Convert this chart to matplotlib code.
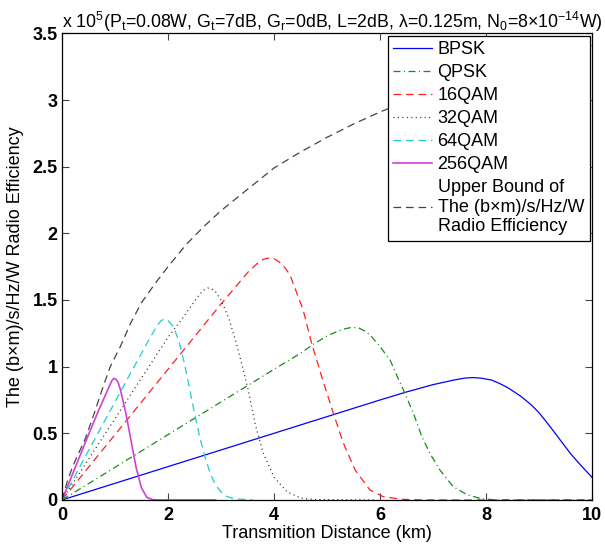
import matplotlib
matplotlib.use("Agg")
import matplotlib.pyplot as plt

plt.rcParams['font.family'] = ['Liberation Sans', 'DejaVu Sans']
plt.rcParams['mathtext.fontset'] = 'custom'
plt.rcParams['mathtext.rm'] = 'Liberation Sans'
plt.rcParams['mathtext.it'] = 'Liberation Sans:italic'
plt.rcParams['lines.scale_dashes'] = False

# values, efficiency in units of 10^5
bpsk_km = [0, 1, 2, 3, 4, 5, 6, 6.5, 7, 7.4, 7.6, 7.75, 7.9, 8.1, 8.25, 8.4, 8.65, 8.85, 9.0, 9.2, 9.4, 9.6, 9.8, 10]
bpsk_eff = [0, 0.125, 0.25, 0.375, 0.5, 0.625, 0.75, 0.81, 0.865, 0.9, 0.914, 0.918, 0.914, 0.9, 0.875, 0.845, 0.78, 0.715, 0.655, 0.555, 0.45, 0.345, 0.255, 0.17]

qpsk_km = [0, 1, 2, 3, 4, 4.5, 4.75, 5.0, 5.2, 5.35, 5.47, 5.6, 5.7, 5.81, 6.0, 6.19, 6.31, 6.47, 6.63, 6.79, 6.94, 7.13, 7.38, 7.64, 7.9, 8.2, 10]
qpsk_eff = [0, 0.245, 0.49, 0.735, 0.98, 1.10, 1.17, 1.23, 1.265, 1.285, 1.295, 1.29, 1.27, 1.24, 1.15, 1.05, 0.94, 0.80, 0.65, 0.475, 0.35, 0.225, 0.10, 0.04, 0.01, 0, 0]

qam16_km = [0, 1, 2, 3, 3.3, 3.5, 3.7, 3.8, 3.9, 4.0, 4.1, 4.2, 4.3, 4.55, 4.71, 4.9, 5.12, 5.31, 5.53, 5.81, 6.06, 6.4, 6.8, 10]
qam16_eff = [0, 0.49, 0.98, 1.47, 1.61, 1.705, 1.78, 1.805, 1.815, 1.81, 1.785, 1.745, 1.69, 1.425, 1.175, 0.925, 0.65, 0.425, 0.225, 0.075, 0.025, 0.005, 0, 0]

qam32_km = [0, 0.5, 1, 1.5, 2, 2.25, 2.5, 2.6, 2.68, 2.75, 2.82, 2.9, 3.0, 3.15, 3.3, 3.5, 3.65, 3.8, 4.0, 4.25, 4.5, 4.75, 5.9]
qam32_eff = [0, 0.305, 0.61, 0.915, 1.22, 1.35, 1.49, 1.545, 1.575, 1.59, 1.585, 1.56, 1.50, 1.36, 1.16, 0.85, 0.56, 0.35, 0.17, 0.06, 0.015, 0.003, 0]

qam64_km = [0, 0.5, 1, 1.25, 1.5, 1.65, 1.8, 1.87, 1.93, 2.0, 2.1, 2.2, 2.3, 2.4, 2.5, 2.6, 2.7, 2.8, 2.9, 3.0, 3.1, 3.25, 3.6]
qam64_eff = [0, 0.37, 0.735, 0.92, 1.10, 1.21, 1.31, 1.345, 1.357, 1.345, 1.30, 1.20, 1.04, 0.85, 0.65, 0.47, 0.32, 0.195, 0.11, 0.06, 0.028, 0.008, 0]

qam256_km = [0, 0.25, 0.5, 0.7, 0.8, 0.9, 0.94, 0.98, 1.02, 1.06, 1.1, 1.2, 1.3, 1.4, 1.5, 1.6, 1.7, 1.8, 2.9]
qam256_eff = [0, 0.245, 0.49, 0.68, 0.77, 0.86, 0.895, 0.912, 0.905, 0.88, 0.83, 0.66, 0.45, 0.24, 0.09, 0.02, 0.003, 0, 0]

bound_km = [0, 0.1, 0.2, 0.3, 0.43, 0.6, 0.75, 0.91, 1.1, 1.3, 1.5, 1.75, 2.0, 2.33, 2.66, 3.0, 3.5, 4.0, 4.5, 5.0, 5.5, 6.0, 6.5, 7, 8, 9, 10]
bound_eff = [0, 0.14, 0.25, 0.34, 0.45, 0.64, 0.82, 1.0, 1.15, 1.33, 1.48, 1.62, 1.75, 1.91, 2.045, 2.17, 2.33, 2.49, 2.61, 2.72, 2.82, 2.91, 2.99, 3.07, 3.2, 3.31, 3.41]

labels = ['BPSK', 'QPSK', '16QAM', '32QAM', '64QAM', '256QAM',
          'Upper Bound of\nThe (b×m)/s/Hz/W\nRadio Efficiency']

fig = plt.figure(figsize=(6.05, 5.47), dpi=100)
ax = fig.add_axes([0.1025, 0.086, 0.876, 0.853])

ax.plot(bpsk_km, bpsk_eff, color='#0000ff', lw=0.9, label=labels[0])
ax.plot(qpsk_km, qpsk_eff, color='#1a8a1a', lw=0.9, dashes=[5, 2.5, 0.8, 2.5], label=labels[1])
ax.plot(qam16_km, qam16_eff, color='#ff2020', lw=0.9, dashes=[5.5, 3.5], label=labels[2])
ax.plot(qam32_km, qam32_eff, color='#333333', lw=0.9, dashes=[0.8, 2.4], label=labels[3])
ax.plot(qam64_km, qam64_eff, color='#22cccc', lw=0.9, dashes=[5.5, 3.5], label=labels[4])
ax.plot(qam256_km, qam256_eff, color='#d040d8', lw=1.2, label=labels[5])
ax.plot(bound_km, bound_eff, color='#444444', lw=0.9, dashes=[5.5, 3.5], label=labels[6])

ax.set_xlim(0, 10)
ax.set_ylim(0, 3.5)
ax.set_xticks([0, 2, 4, 6, 8, 10])
ax.set_yticks([0, 0.5, 1, 1.5, 2, 2.5, 3, 3.5])
ax.set_yticklabels(['0', '0.5', '1', '1.5', '2', '2.5', '3', '3.5'])
ax.tick_params(direction='in', top=True, right=True, length=5, width=0.8,
               labelsize=13, colors='#444444', labelcolor='black')
ax.tick_params(axis='x', pad=5)
ax.tick_params(axis='y', pad=3)
for lab in ax.get_xticklabels() + ax.get_yticklabels():
    lab.set_fontweight('bold')
for sp in ax.spines.values():
    sp.set_linewidth(0.9)

ax.set_xlabel('Transmition Distance (km)', fontsize=13, labelpad=1)
ax.set_ylabel('The (b×m)/s/Hz/W Radio Efficiency', fontsize=13)
ax.yaxis.set_label_coords(-0.072, 0.5)

ax.text(0.0, 1.011,
        r'x 10$^5$(P$_\mathrm{t}$=0.08W, G$_\mathrm{t}$=7dB, G$_\mathrm{r}$=0dB, L=2dB, '
        r'λ=0.125m, N$_0$=8×10$^{-14}$W)',
        transform=ax.transAxes, fontsize=12.75, ha='left', va='baseline')

leg = ax.legend(loc='upper right', fontsize=13, frameon=True, fancybox=False,
                edgecolor='black', framealpha=1, borderaxespad=0.12,
                handlelength=2.15, handletextpad=0.3, labelspacing=0.33,
                borderpad=0.32)
leg.get_frame().set_linewidth(0.9)

fig.savefig('out.png', dpi=100)
